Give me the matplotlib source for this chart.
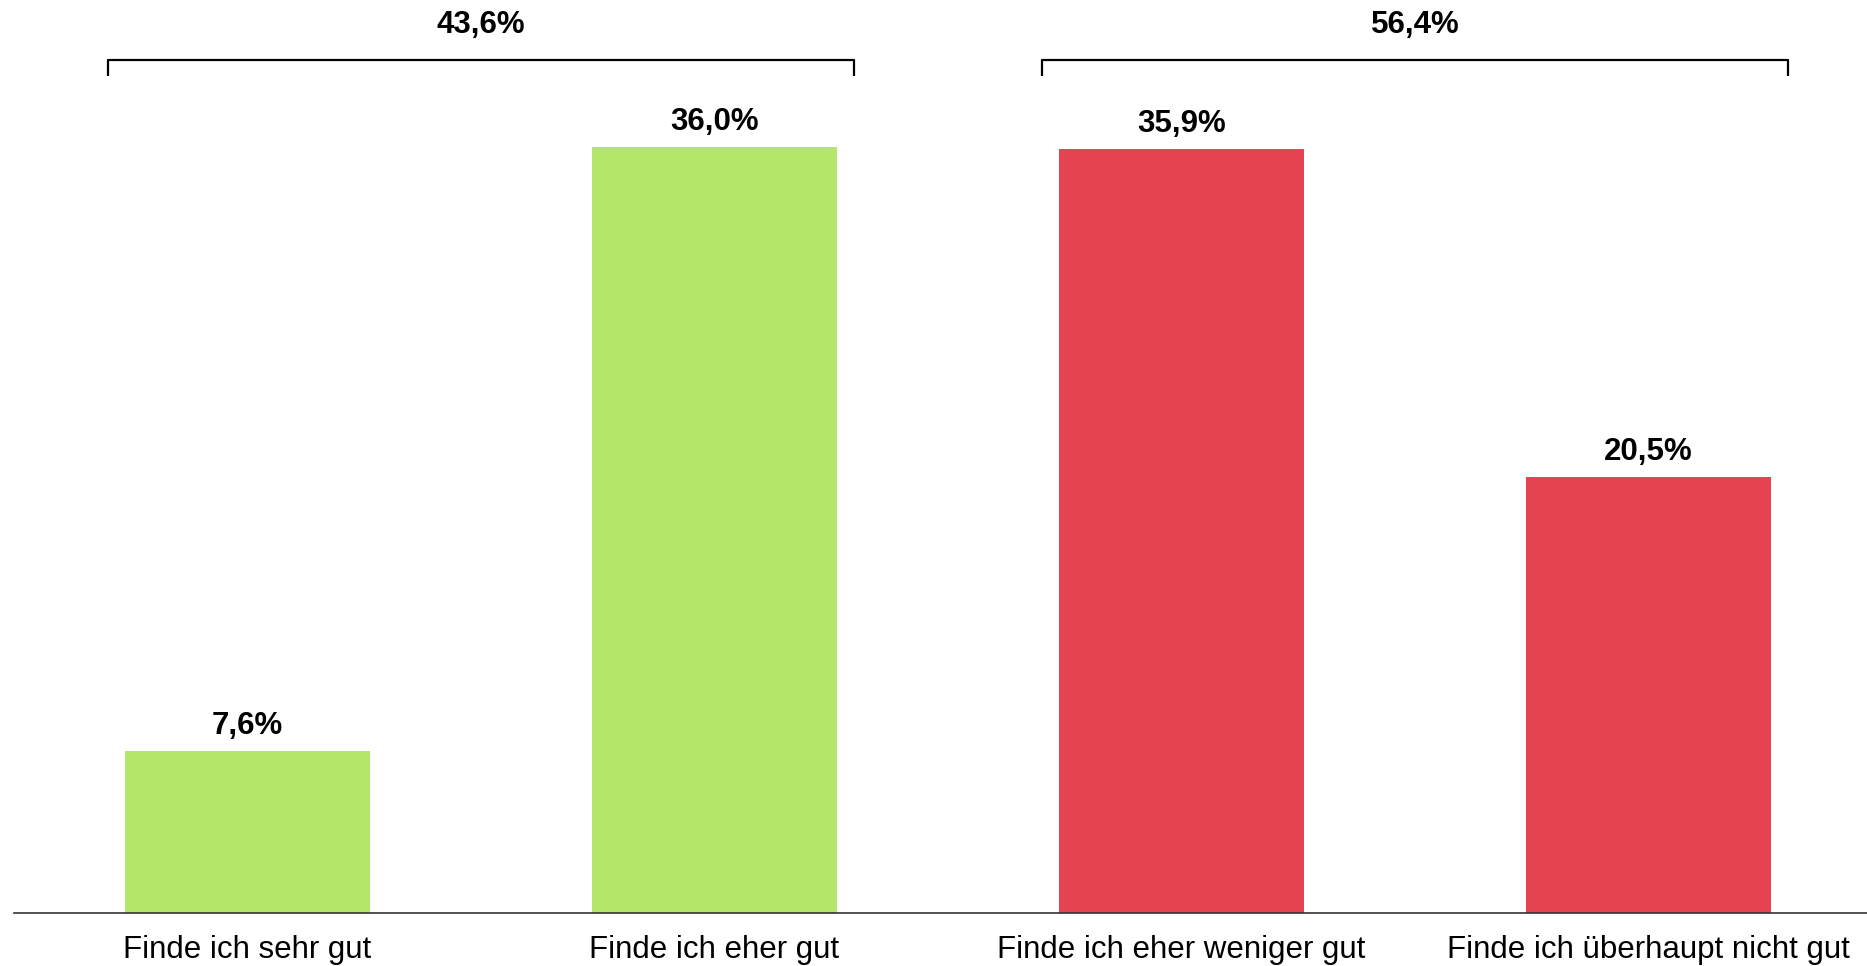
import matplotlib
matplotlib.use("Agg")
import matplotlib.pyplot as plt

categories = ["Finde ich sehr gut", "Finde ich eher gut", "Finde ich eher weniger gut", "Finde ich überhaupt nicht gut"]
values = [7.6, 36.0, 35.9, 20.5]
value_labels = ["7,6%", "36,0%", "35,9%", "20,5%"]
bar_colors = ["#B3E66A", "#B3E66A", "#E54352", "#E54352"]
group_spans = [(0, 1), (2, 3)]
group_labels = ["43,6%", "56,4%"]

plt.rcParams['font.family'] = ['Liberation Sans', 'DejaVu Sans']

W, H = 1867, 966
fig = plt.figure(figsize=(W / 100, H / 100), dpi=100)
base_px = 913
left_px = 14
ax = fig.add_axes([left_px / W, (H - base_px) / H, (W - left_px) / W, base_px / H])

px_per_unit_y = (913 - 147) / 36.0
pitch = 467.0
x_right = -0.5 + (W - left_px) / pitch
ax.set_xlim(-0.5, x_right)
ax.set_ylim(0, base_px / px_per_unit_y)

bw = 0.525
xs = list(range(len(categories)))
ax.bar(xs, values, width=bw, color=bar_colors, zorder=2)

for x, v, lab in zip(xs, values, value_labels):
    ax.annotate(lab, (x, v), xytext=(0, 17 * 0.72), textcoords="offset points",
                ha="center", va="baseline", fontsize=22.5, fontweight="bold", color="black")

ext = 17 / pitch
tick_h = 16 / px_per_unit_y
by = (913 - 60) / px_per_unit_y
for (a, b), lab in zip(group_spans, group_labels):
    x0 = a - bw / 2 - ext
    x1 = b + bw / 2 + ext
    ax.plot([x0, x0, x1, x1], [by - tick_h, by, by, by - tick_h], color="black",
            lw=1.6, clip_on=False, solid_joinstyle="round", solid_capstyle="butt")
    ax.text((x0 + x1) / 2, (913 - 33) / px_per_unit_y, lab, ha="center", va="baseline",
            fontsize=22.5, fontweight="bold", color="black")

for s in ["top", "right", "left"]:
    ax.spines[s].set_visible(False)
ax.spines["bottom"].set_color("#333333")
ax.spines["bottom"].set_linewidth(1.2)
ax.set_yticks([])
ax.set_xticks(xs)
ax.set_xticklabels(categories, fontsize=22.5, color="black", va="baseline")
ax.tick_params(axis="x", length=0, pad=45 * 0.72)

fig.savefig("out.png", dpi=100)
